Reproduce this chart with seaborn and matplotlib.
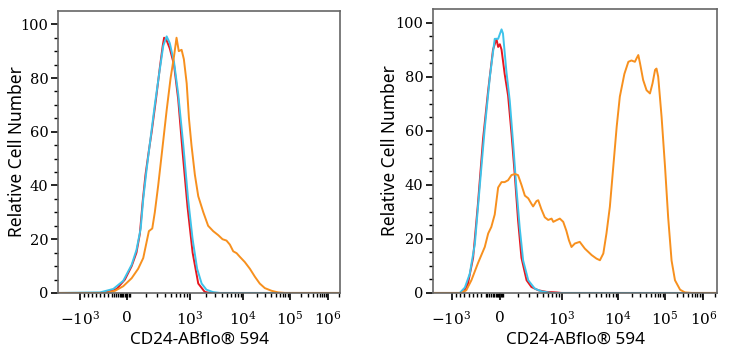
import numpy as np
import pandas as pd
import seaborn as sns
import matplotlib.pyplot as plt

# x: display channel (0-1000 across the plot frame), y: relative cell number
# left panel
l_red_x = [0, 148, 171, 207, 236, 260, 277, 289, 299, 309, 321, 331, 346, 360, 370, 375, 384,
           395, 410, 425, 440, 458, 476, 496, 519, 537, 1000]
l_red_y = [0, 0, 0.3, 1.5, 5, 10, 15, 22, 34, 44, 53, 60, 72, 84, 92, 95, 94,
           91, 85, 72, 53, 32, 15, 3.5, 0.4, 0, 0]
l_cyan_x = [0, 148, 195, 230, 260, 277, 292, 301, 313, 325, 342, 358, 372, 384, 395, 410, 425,
            443, 460, 476, 492, 508, 525, 549, 573, 1000]
l_cyan_y = [0, 0.2, 1.5, 4.5, 10.5, 16, 24, 35, 46, 56, 70, 82, 92, 95.5, 93, 86, 74,
            55, 35, 20, 9, 3.5, 1.2, 0.3, 0, 0]
l_orange_x = [0, 171, 201, 230, 260, 283, 301, 313, 321, 333, 342, 354, 368, 384, 398, 410, 419,
              427, 437, 445, 455, 463, 472, 484, 496, 514, 531, 549, 567, 582, 596, 608, 620,
              632, 643, 661, 679, 697, 714, 732, 756, 779, 803, 1000]
l_orange_y = [0, 0, 0.8, 2.5, 5.5, 9, 13, 19, 23, 24, 30, 40, 53, 68, 80, 88, 95,
              90, 90.5, 87, 78, 65, 55, 44, 36, 30, 25, 23, 21.5, 20, 19.5, 18, 15.5,
              14.8, 13.5, 11.5, 9, 6, 3.5, 1.8, 0.8, 0.2, 0, 0]

# right panel
r_red_x = [0, 106, 123, 141, 158, 176, 194, 211, 223, 229, 235, 241, 252, 264, 276, 288, 299,
           311, 329, 346, 370, 399, 434, 452, 1000]
r_red_y = [0, 0, 3.5, 13, 33, 57, 75, 90, 94, 91, 92, 90, 81, 73, 59, 43, 27,
           13, 4.7, 2.2, 1, 0.4, 0.2, 0, 0]
r_cyan_x = [0, 94, 112, 129, 147, 164, 182, 200, 217, 229, 241, 246, 258, 270, 282, 293, 305,
            317, 335, 358, 381, 417, 1000]
r_cyan_y = [0, 0, 2, 7, 18, 39, 61, 80, 94, 94, 97.5, 96, 82, 71, 55, 39, 24,
            12, 4.7, 1.6, 0.6, 0, 0]
r_orange_x = [0, 100, 117, 135, 158, 182, 194, 205, 217, 229, 241, 252, 264, 276, 288, 299, 311,
              323, 335, 346, 352, 364, 370, 381, 393, 405, 417, 423, 434, 446, 458, 469, 478,
              487, 499, 516, 534, 558, 575, 587, 599, 610, 622, 634, 646, 657, 673, 687, 698,
              710, 716, 722, 728, 739, 751, 763, 772, 781, 786, 792, 804, 816, 827, 839, 851,
              869, 886, 910, 1000]
r_orange_y = [0, 0, 1, 4.7, 11, 17, 22, 24.4, 29, 39, 41, 41, 41.7, 43.6, 44, 43.6, 40,
              36, 35, 33, 32, 34, 34.3, 31, 28, 27, 27.5, 26.3, 26.9, 27.5, 26.3, 23, 19.5,
              17, 18.3, 18.9, 16.4, 14, 12.7, 12.1, 14.6, 22, 31.9, 46.7, 61.5, 72.6, 81, 85.5, 86,
              85.5, 86.8, 88, 85, 78.8, 75, 73.8, 77.5, 82.5, 83, 80, 65, 46.7, 28, 12, 4.7,
              1.2, 0.2, 0, 0]

tick_labels = [r'$-10^{3}$', r'$0$', r'$10^{3}$', r'$10^{4}$', r'$10^{5}$', r'$10^{6}$']
l_ticks = [77, 242, 466, 655, 821, 956]
r_ticks = [65, 235, 452, 651, 816, 951]

palette = {'red': '#e8161e', 'cyan': '#3ec3ea', 'orange': '#f7901e'}

sns.set_style('ticks')
plt.rcParams['font.family'] = ['Noto Sans', 'DejaVu Sans']
plt.rcParams['mathtext.fontset'] = 'dejavuserif'
plt.rcParams['text.color'] = 'black'
plt.rcParams['axes.labelcolor'] = 'black'
plt.rcParams['xtick.color'] = 'black'
plt.rcParams['ytick.color'] = 'black'


def make_df(red, cyan, orange):
    parts = []
    for name, (x, y) in zip(['red', 'cyan', 'orange'], [red, cyan, orange]):
        parts.append(pd.DataFrame({'channel': x, 'count': y, 'sample': name}))
    return pd.concat(parts, ignore_index=True)


def style_axis(ax, ticks, ylabel_pad):
    neg, zero, d3, d4, d5, d6 = ticks
    minor = list(np.linspace(neg, zero - 50, 9)[1:])
    minor += list(zero + np.array([-44, -37, -31, -25, -20, -15, -11, -7, -3, 3, 7, 11]))
    for a, b in [(zero, d3), (d3, d4), (d4, d5), (d5, d6)]:
        minor += [a + (b - a) * np.log10(m) for m in range(2, 10)]
    minor += [d6 + (d6 - d5) * np.log10(m) for m in range(2, 10)
              if d6 + (d6 - d5) * np.log10(m) < 1000]
    ax.set_xlim(0, 1000)
    ax.set_ylim(0, 105)
    ax.set_xticks(ticks, tick_labels)
    ax.set_xticks(minor, minor=True)
    ax.set_yticks([0, 20, 40, 60, 80, 100])
    ax.set_yticks(np.arange(0, 105, 5), minor=True)
    ax.tick_params(axis='both', which='major', length=5, width=1.2, pad=2)
    ax.tick_params(axis='both', which='minor', length=3, width=1.0)
    ax.tick_params(axis='x', which='major', pad=8, labelsize=11)
    ax.tick_params(axis='y', which='major', labelsize=10.5)
    for lab in ax.get_yticklabels():
        lab.set_family('DejaVu Serif')
    for s in ax.spines.values():
        s.set_color('#666')
        s.set_linewidth(1.2)
    ax.set_xlabel('CD24-ABflo® 594', fontsize=12.3, labelpad=2)
    ax.set_ylabel('Relative Cell Number', fontsize=12.5, labelpad=ylabel_pad)


fig = plt.figure(figsize=(7.29, 3.5), dpi=100)
ax1 = fig.add_axes([0.080, 0.163, 0.387, 0.806])
ax2 = fig.add_axes([0.594, 0.163, 0.390, 0.811])

df_l = make_df((l_red_x, l_red_y), (l_cyan_x, l_cyan_y), (l_orange_x, l_orange_y))
df_r = make_df((r_red_x, r_red_y), (r_cyan_x, r_cyan_y), (r_orange_x, r_orange_y))

for ax, df, ticks, pad in [(ax1, df_l, l_ticks, -3.5), (ax2, df_r, r_ticks, -2.5)]:
    sns.lineplot(data=df, x='channel', y='count', hue='sample', palette=palette,
                 estimator=None, linewidth=1.4, legend=False, ax=ax)
    style_axis(ax, ticks, pad)

fig.savefig('out.png', dpi=100)
